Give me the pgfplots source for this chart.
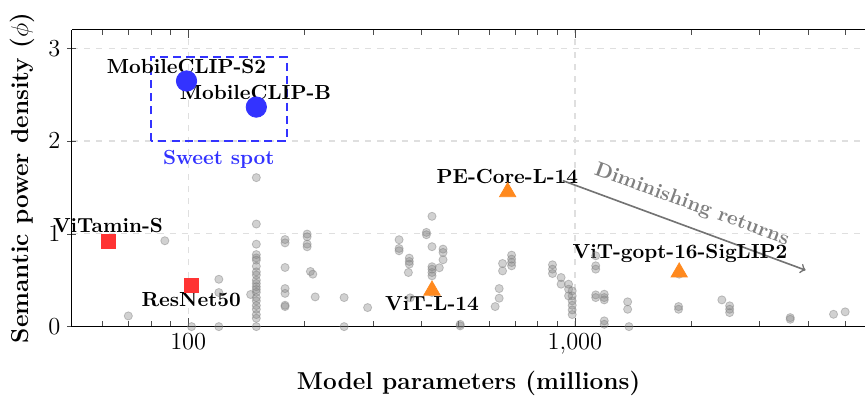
\documentclass[border=0pt]{standalone}
\usepackage{pgfplots}
\pgfplotsset{compat=1.18}
\definecolor{hlblue}{RGB}{51,51,255}
\definecolor{hlred}{RGB}{255,51,51}
\definecolor{hlorange}{RGB}{255,137,30}
\begin{document}
\begin{tikzpicture}
\begin{axis}[
  scale only axis, width=389.5pt, height=145.8pt,
  xmode=log, xmin=50, xmax=5640, ymin=0, ymax=3.2,
  axis x line=box, axis y line=left,
  x axis line style={-}, y axis line style={-},
  clip=false,
  log ticks with fixed point,
  xtick={100,1000},
  minor xtick={60,70,80,90,200,300,400,500,600,700,800,900,2000,3000,4000,5000},
  ytick={0,1,2,3},
  tick style={black!70},
  grid=major,
  major grid style={dashed, gray!25, line width=0.6pt},
  tick label style={font=\large},
  xlabel={\large\bfseries Model parameters (millions)},
  xlabel style={yshift=-1.5pt},
  ylabel={\large\bfseries Semantic power density ($\phi$)},
]
% other models
\addplot[only marks, mark=*, mark size=2pt,
  mark options={fill=gray, fill opacity=0.36, draw=gray, draw opacity=0.45}]
coordinates {
(87,0.925) (70,0.115) (102,0) (120,0) (120,0.51) (120,0.367) (145,0.346)
(150,1.605) (150,1.105) (150,0.888) (150,0.776) (150,0.74) (150,0.716) (150,0.65)
(150,0.59) (150,0.556) (150,0.50) (150,0.465) (150,0.43) (150,0.40) (150,0.37)
(150,0.313) (150,0.277) (150,0.227) (150,0.187) (150,0.13) (150,0.09) (150,0)
(178,0.938) (178,0.902) (178,0.637) (178,0.41) (178,0.358) (178,0.23) (178,0.216)
(203,0.997) (203,0.968) (203,0.889) (203,0.86)
(207,0.594) (210,0.565) (213,0.32)
(253,0.313) (253,0) (291,0.205)
(351,0.936) (351,0.842) (351,0.817)
(373,0.738) (373,0.702) (373,0.673) (371,0.583) (375,0.31)
(413,1.015) (413,0.99)
(427,1.188) (427,0.861) (427,0.645) (427,0.619) (427,0.583) (427,0.547) (427,0.367)
(446,0.634) (456,0.835) (456,0.799) (456,0.72)
(505,0.025) (505,0.008)
(622,0.216) (637,0.41) (637,0.306) (650,0.68) (650,0.60)
(686,0.77) (686,0.727) (686,0.691) (686,0.655)
(875,0.666) (875,0.619) (875,0.572)
(921,0.529) (921,0.457)
(963,0.457) (963,0.403) (963,0.331)
(984,0.385) (984,0.331) (984,0.277) (984,0.23) (984,0.18) (984,0.13)
(1132,0.763) (1132,0.655) (1132,0.619) (1132,0.342) (1132,0.313)
(1191,0.349) (1191,0.313) (1191,0.288) (1191,0.062) (1191,0.025)
(1369,0.267) (1369,0.187) (1380,0)
(1854,0.216) (1854,0.187) (1861,0.565)
(2399,0.288) (2513,0.224) (2513,0.187) (2513,0.151)
(3605,0.097) (3605,0.079) (4665,0.133) (5000,0.159)
};
% MobileCLIP
\addplot[only marks, mark=*, mark size=5pt, color=hlblue] coordinates {(99,2.646) (150,2.365)};
% ViTamin-S, ResNet50
\addplot[only marks, mark=square*, mark size=3.5pt, color=hlred] coordinates {(62.2,0.921) (102,0.44)};
% PE-Core, ViT-L-14, ViT-gopt
\addplot[only marks, mark=triangle*, mark size=4.6pt, color=hlorange] coordinates {(670,1.45) (427,0.39) (1861,0.585)};
% sweet spot box
\draw[hlblue, line width=1pt, dash pattern=on 4pt off 2.5pt] (axis cs:80,2) rectangle (axis cs:180,2.9);
\node[anchor=base, text=hlblue, font=\bfseries] at (axis cs:120,1.742) {Sweet spot};
% diminishing returns
\draw[->, black!55, line width=0.8pt] (axis cs:930,1.573) -- (axis cs:3950,0.608)
  node[midway, sloped, above=2.5pt, text=gray, font=\bfseries] {Diminishing returns};
% labels
\node[anchor=base, font=\bfseries] at (axis cs:99,2.725) {MobileCLIP-S2};
\node[anchor=base, font=\bfseries] at (axis cs:149.3,2.448) {MobileCLIP-B};
\node[anchor=base, font=\bfseries] at (axis cs:62,1.015) {ViTamin-S};
\node[anchor=base, font=\bfseries] at (axis cs:101.8,0.213) {ResNet50};
\node[anchor=base, font=\bfseries] at (axis cs:669,1.544) {PE-Core-L-14};
\node[anchor=base, font=\bfseries] at (axis cs:427,0.176) {ViT-L-14};
\node[anchor=base, font=\bfseries] at (axis cs:1870,0.738) {ViT-gopt-16-SigLIP2};
\end{axis}
\path ([shift={(-1.5pt,3pt)}]current bounding box.north west);
\end{tikzpicture}
\end{document}
